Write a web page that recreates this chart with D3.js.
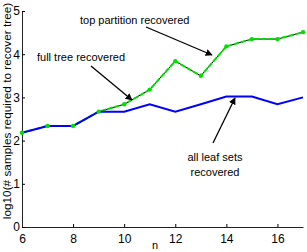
<!DOCTYPE html>
<html>
<head>
<meta charset="utf-8">
<script src="https://cdn.jsdelivr.net/npm/d3@7"></script>
<style>
  body { margin: 0; background: #fff; }
  text { font-family: "Liberation Sans", Arial, sans-serif; }
</style>
</head>
<body>
<div id="chart"></div>
<script>
"use strict";

// data
var n_values = [6, 7, 8, 9, 10, 11, 12, 13, 14, 15, 16, 17];
var leaf_sets = [2.18, 2.34, 2.34, 2.67, 2.67, 2.84, 2.67, 2.84, 3.02, 3.02, 2.84, 3.0];
var full_tree = [2.18, 2.34, 2.34, 2.67, 2.84, 3.18, 3.84, 3.5, 4.18, 4.35, 4.35, 4.51];
var top_partition = [2.18, 2.34, 2.34, 2.67, 2.84, 3.18, 3.84, 3.5, 4.18, 4.35, 4.35, 4.51];
var x_ticks = [6, 8, 10, 12, 14, 16];
var y_ticks = [0, 1, 2, 3, 4, 5];

var width = 307, height = 252;
var margin = { top: 11, right: 4, bottom: 25, left: 22 };

var svg = d3.select("#chart")
    .append("svg")
    .attr("width", width)
    .attr("height", height);

var x = d3.scaleLinear()
    .domain([6, 17])
    .range([margin.left, width - margin.right]);
var y = d3.scaleLinear()
    .domain([0, 5])
    .range([height - margin.bottom, margin.top]);

// axis labels (drawn first so tick labels sit on top)
svg.append("text")
    .attr("x", 155)
    .attr("y", 249)
    .attr("text-anchor", "middle")
    .attr("font-size", 11)
    .text("n");
svg.append("text")
    .attr("transform", "translate(10.5,111) rotate(-90)")
    .attr("text-anchor", "middle")
    .attr("font-size", 11.8)
    .text("log10(# samples required to recover tree)");

// axes with inward ticks
svg.append("g")
    .attr("transform", "translate(0," + y(0) + ")")
    .call(d3.axisBottom(x).tickValues(x_ticks).tickFormat(d3.format("d"))
        .tickSizeInner(-3).tickSizeOuter(0).tickPadding(7))
    .call(function (g) {
        g.selectAll("text").attr("font-size", 12).attr("fill", "#000");
        g.select(".domain").attr("stroke", "#222");
    });
var yAxis = svg.append("g")
    .attr("transform", "translate(" + x(6) + ",0)")
    .call(d3.axisLeft(y).tickValues(y_ticks).tickFormat(d3.format("d"))
        .tickSizeInner(-3).tickSizeOuter(0));
yAxis.select(".domain").attr("stroke", "#222");
yAxis.selectAll(".tick text")
    .attr("x", -2)
    .attr("font-size", 12)
    .attr("fill", "#000");

var line = d3.line()
    .x(function (d, i) { return x(n_values[i]); })
    .y(function (d) { return y(d); });

// full tree: thin black line
svg.append("path")
    .datum(full_tree)
    .attr("fill", "none")
    .attr("stroke", "#000")
    .attr("stroke-width", 1)
    .attr("d", line);

// top partition: green dashed
svg.append("path")
    .datum(top_partition)
    .attr("fill", "none")
    .attr("stroke", "#00e000")
    .attr("stroke-width", 2)
    .attr("stroke-dasharray", "5,2")
    .attr("d", line);

// all leaf sets: blue
svg.append("path")
    .datum(leaf_sets)
    .attr("fill", "none")
    .attr("stroke", "#0000ff")
    .attr("stroke-width", 2)
    .attr("d", line);

// markers
svg.selectAll(".dot")
    .data(top_partition)
    .enter()
    .append("circle")
    .attr("cx", function (d, i) { return x(n_values[i]); })
    .attr("cy", function (d) { return y(d); })
    .attr("r", 2.2)
    .attr("fill", "#00e000");

// annotations
var defs = svg.append("defs");
defs.append("marker")
    .attr("id", "head")
    .attr("viewBox", "0 0 10 10")
    .attr("refX", 9)
    .attr("refY", 5)
    .attr("markerWidth", 7)
    .attr("markerHeight", 7)
    .attr("markerUnits", "userSpaceOnUse")
    .attr("orient", "auto")
    .append("path")
    .attr("d", "M0,0 L10,5 L0,10 Z")
    .attr("fill", "#000");

var arrows = [
    [91, 66, 132, 100],
    [146, 27, 212, 55],
    [213, 143, 235, 98]
];
svg.selectAll(".arrow")
    .data(arrows)
    .enter()
    .append("line")
    .attr("x1", function (d) { return d[0]; })
    .attr("y1", function (d) { return d[1]; })
    .attr("x2", function (d) { return d[2]; })
    .attr("y2", function (d) { return d[3]; })
    .attr("stroke", "#000")
    .attr("stroke-width", 1.3)
    .attr("marker-end", "url(#head)");

svg.append("text").attr("x", 80).attr("y", 24).attr("font-size", 11).text("top partition recovered");
svg.append("text").attr("x", 37).attr("y", 61).attr("font-size", 11).text("full tree recovered");
svg.append("text").attr("x", 215).attr("y", 161).attr("text-anchor", "middle").attr("font-size", 11).text("all leaf sets");
svg.append("text").attr("x", 215).attr("y", 176).attr("text-anchor", "middle").attr("font-size", 11).text("recovered");
</script>
</body>
</html>
